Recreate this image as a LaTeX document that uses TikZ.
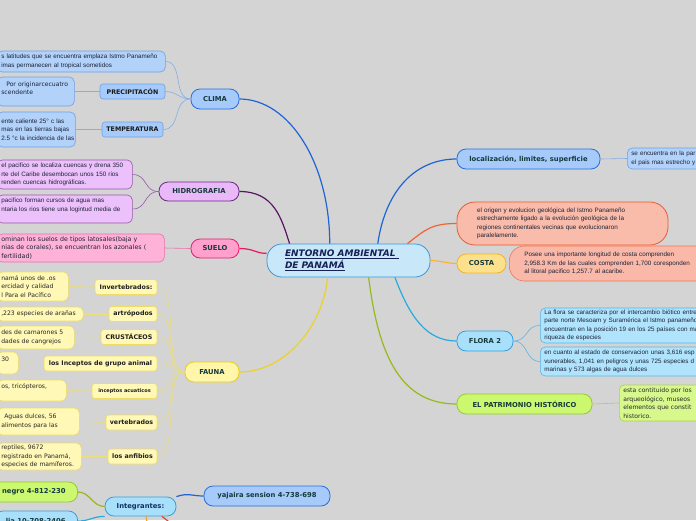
\documentclass[tikz,border=0pt]{standalone}
\usepackage{fontspec}
\setmainfont{Liberation Sans}
\newfontfamily\djv{DejaVu Sans}
\newcommand\ttlf{\djv\bfseries\fontsize{6.8}{8}\selectfont}
\newcommand\subf{\djv\bfseries\fontsize{6.3}{7}\selectfont}
\newcommand\notef{\fontsize{6.3}{8.5}\selectfont}
\newcommand\notedj{\djv\fontsize{6.1}{8.5}\selectfont}
\definecolor{bgc}{RGB}{212,212,212}
\definecolor{ttlc}{RGB}{22,58,58}
\definecolor{notec}{RGB}{28,34,56}
\definecolor{cenF}{RGB}{200,232,250}\definecolor{cenD}{RGB}{60,150,215}\definecolor{cenT}{RGB}{22,32,84}
\definecolor{bluF}{RGB}{166,202,250}\definecolor{bluD}{RGB}{40,110,220}\definecolor{bluL}{RGB}{30,100,215}
\definecolor{bluN}{RGB}{178,210,250}\definecolor{bluND}{RGB}{110,160,230}\definecolor{bluT}{RGB}{130,175,230}
\definecolor{purF}{RGB}{232,184,248}\definecolor{purD}{RGB}{110,40,130}\definecolor{purL}{RGB}{90,20,100}
\definecolor{purN}{RGB}{236,192,250}\definecolor{purND}{RGB}{150,90,170}
\definecolor{pnkF}{RGB}{255,160,205}\definecolor{pnkD}{RGB}{230,30,110}\definecolor{pnkL}{RGB}{230,25,90}
\definecolor{pnkN}{RGB}{255,178,216}\definecolor{pnkND}{RGB}{232,112,170}
\definecolor{yelF}{RGB}{255,246,170}\definecolor{yelD}{RGB}{235,205,20}\definecolor{yelL}{RGB}{235,210,40}
\definecolor{yelN}{RGB}{255,248,182}\definecolor{yelND}{RGB}{240,220,100}\definecolor{yelT}{RGB}{236,222,120}
\definecolor{salF}{RGB}{250,188,170}\definecolor{salD}{RGB}{235,90,45}\definecolor{salL}{RGB}{240,100,50}
\definecolor{cosF}{RGB}{253,224,140}\definecolor{cosD}{RGB}{240,180,40}\definecolor{cosL}{RGB}{250,180,50}
\definecolor{cosN}{RGB}{250,185,168}\definecolor{cosND}{RGB}{235,120,90}
\definecolor{cyaF}{RGB}{168,224,252}\definecolor{cyaD}{RGB}{50,160,220}\definecolor{cyaL}{RGB}{40,170,225}
\definecolor{cyaN}{RGB}{176,228,252}\definecolor{cyaND}{RGB}{90,180,230}
\definecolor{grnF}{RGB}{204,248,112}\definecolor{grnD}{RGB}{150,200,50}\definecolor{grnL}{RGB}{150,185,30}
\definecolor{grnN}{RGB}{215,248,140}\definecolor{grnND}{RGB}{170,210,80}
\definecolor{oraL}{RGB}{245,160,40}\definecolor{redL}{RGB}{225,70,50}
\usetikzlibrary{calc}
\tikzset{
 topic/.style={draw, rounded corners=9pt, line width=0.8pt, minimum height=20pt, inner sep=0pt, font=\ttlf, text=ttlc},
 subbox/.style={draw=yelND, fill=yelN, rounded corners=3pt, line width=0.6pt, minimum height=15pt, inner sep=0pt, font=\subf, text=black!88},
 note/.style={draw, rounded corners=5pt, line width=0.6pt, align=left, inner xsep=4pt, inner ysep=0pt, font=\notef, text=notec},
 conn/.style={line width=1.2pt},
 thinl/.style={line width=0.6pt},
}
\begin{document}
\begin{tikzpicture}[x=1pt,y=-1pt]
\fill[bgc] (0,0) rectangle (696,520);
\useasboundingbox (0,0) rectangle (696,520);

% central
\node[draw=cenD, fill=cenF, line width=0.8pt, rounded corners=15pt, minimum width=163pt, minimum height=33pt, text width=127pt, inner xsep=18pt, align=left, text=cenT, font=\djv\bfseries\itshape\fontsize{9}{12}\selectfont] (c) at (348.5,260.5) {\underline{ENTORNO AMBIENTAL }\\\underline{DE PANAMÁ}};

% CLIMA
\node[topic, fill=bluF, draw=bluD, minimum width=48pt] (clima) at (215,99) {CLIMA};
\node[note, fill=bluN, draw=bluND, anchor=west, text width=160pt, minimum height=21pt] (c1) at (-3,61.5) {\mbox{s latitudes que se encuentra emplaza Istmo Panameño}\\\mbox{imas permanecen al tropical sometidos}};
\node[subbox, fill=bluF, draw=bluND, text=black!90, minimum width=65pt] (prec) at (132.5,91.5) {PRECIPITACÓN};
\node[note, fill=bluN, draw=bluND, anchor=west, text width=69pt, minimum height=29pt, font=\notedj] (pc) at (-3,91.5) {\hspace*{5pt}\mbox{Por originarcecuatro}\\scendente\\[-2pt]\mbox{}};
\node[subbox, fill=bluF, draw=bluND, text=black!90, minimum width=61pt] (temp) at (132.5,129.5) {TEMPERATURA};
\node[note, fill=bluN, draw=bluND, anchor=west, text width=70pt, minimum height=35pt] (tc) at (-3,129.5) {\mbox{ente caliente 25° c las}\\\mbox{mas en las tierras bajas}\\\mbox{2.5 °c la incidencia de las}};
\draw[thinl, bluT] (clima.west) .. controls +(-18,0) and +(18,0) .. (c1.east);
\draw[thinl, bluT] (clima.west) .. controls +(-12,0) and +(12,0) .. (prec.east);
\draw[thinl, bluT] (clima.west) .. controls +(-18,0) and +(18,0) .. (temp.east);
\draw[thinl, bluT] (prec.west) -- (pc.east);
\draw[thinl, bluT] (temp.west) -- (tc.east);
\draw[conn, bluL] (clima.east) .. controls +(50,0) and +(0,-80) .. (c.138);

% HIDROGRAFIA
\node[topic, fill=purF, draw=purD, minimum width=80pt, minimum height=19pt] (hid) at (199,191.5) {HIDROGRAFIA};
\node[note, fill=purN, draw=purND, anchor=west, text width=127pt, minimum height=29pt] (h1) at (-3,174.5) {\mbox{el pacifico se localiza cuencas y drena 350}\\\mbox{rte del Caribe desembocan unos 150 rios}\\\mbox{renden cuencas hidrográficas.}};
\node[note, fill=purN, draw=purND, anchor=west, text width=127pt, minimum height=28pt] (h2) at (-3,209) {\mbox{pacifico forman cursos de agua mas}\\\mbox{ntaria los rios tiene una logintud media de}\\\mbox{}};
\draw[thinl, purND] (hid.west) .. controls +(-15,0) and +(15,0) .. (h1.east);
\draw[thinl, purND] (hid.west) .. controls +(-15,0) and +(15,0) .. (h2.east);
\draw[conn, purL] (hid.east) .. controls +(35,0) and +(-8,-25) .. (c.164);

% SUELO
\node[topic, fill=pnkF, draw=pnkD, minimum width=48pt, minimum height=19pt] (suelo) at (215,248.5) {SUELO};
\node[note, fill=pnkN, draw=pnkND, anchor=west, text width=159pt, minimum height=28pt, font=\djv\fontsize{6.3}{8.5}\selectfont] (s1) at (-3,248) {\mbox{ominan los suelos de tipos latosales(baja y}\\\mbox{nias de corales), se encuentran los azonales (}\\fertilidad)};
\draw[thinl, pnkND] (suelo.west) -- (s1.east);
\draw[conn, pnkL] (suelo.east) .. controls +(15,0) and +(-12,0) .. (c.175);

% FAUNA
\node[topic, fill=yelF, draw=yelD, minimum width=54pt] (fauna) at (212,372) {FAUNA};
\node[subbox, minimum width=62pt] (inv) at (126,287) {Invertebrados:};
\node[subbox, minimum width=48pt] (art) at (133,314) {artrópodos};
\node[subbox, minimum width=56pt] (cru) at (129,337) {CRUSTÁCEOS};
\node[subbox, minimum width=113pt] (inc) at (100.5,363.5) {los Inceptos de grupo animal};
\node[subbox, minimum width=65pt, font=\djv\bfseries\fontsize{5}{6}\selectfont] (acu) at (124.5,391) {inceptos acuaticos};
\node[subbox, minimum width=51pt] (ver) at (131.5,422.5) {vertebrados};
\node[subbox, minimum width=49pt] (anf) at (132.5,456.5) {los anfibios};
\tikzset{fnote/.style={note, fill=yelN, draw=yelND, anchor=west, font=\notedj, text=black!85}}
\node[fnote, text width=63pt, minimum height=29pt] (f1) at (-3,286.5) {\mbox{namá unos de .os}\\\mbox{ercidad y calidad}\\\mbox{l Para el Pacífico}};
\node[fnote, text width=78pt, minimum height=14pt] (f2) at (-3,314) {\mbox{,223 especies de arañas}};
\node[fnote, text width=69pt, minimum height=23pt] (f3) at (-3,337.5) {\mbox{des de camarones 5}\\\mbox{dades de cangrejos}};
\node[fnote, text width=13pt, minimum height=22pt] (f4) at (-3,363) {30\\\mbox{}};
\node[fnote, text width=61pt, minimum height=21pt] (f5) at (-3,390.5) {\mbox{os, tricópteros,}\\\mbox{}};
\node[fnote, text width=74pt, minimum height=27pt] (f6) at (-3,421.5) {\hspace*{3pt}\mbox{Aguas dulces, 56}\\\mbox{alimentos para las}};
\node[fnote, text width=76pt, minimum height=27pt] (f7) at (-3,456.5) {\mbox{reptiles, 9672}\\\mbox{registrado en Panamá,}\\\mbox{especies de mamíferos.}};
\foreach \s in {inv,art,cru,inc,acu,ver,anf}
  \draw[thinl, yelT] (fauna.west) .. controls +(-22,0) and +(22,0) .. (\s.east);
\foreach \s/\t in {inv/f1,art/f2,cru/f3,inc/f4,acu/f5,ver/f6,anf/f7}
  \draw[thinl, yelT] (\s.west) -- (\t.east);
\draw[conn, yelL] (fauna.east) .. controls +(45,0) and +(-5,50) .. (c.-141);

% Integrantes
\node[topic, fill=cyaF, draw=cyaD, minimum width=71pt, minimum height=19pt, text=ttlc!80!blue] (integ) at (140.5,506.5) {Integrantes:};
\node[topic, fill=grnF, draw=grnD, anchor=east, inner xsep=12pt] (negro) at (78,492) {negro 4-812-230};
\node[topic, fill=cyaF, draw=cyaD, anchor=east, inner xsep=12pt] (julia) at (78,521) {lia 10-708-2406};
\node[topic, fill=bluF, draw=bluD, minimum width=126pt] (yaj) at (267,496) {yajaira sension 4-738-698};
\coordinate (o1) at (148,530);
\coordinate (r1) at (176,530);
\draw[conn, grnL] (integ.west) .. controls +(-12,0) and +(12,0) .. (negro.east);
\draw[conn, bluL] (integ.north east) .. controls +(12,-4) and +(-12,0) .. (yaj.west);
\draw[conn, cyaL] (integ.south west) .. controls +(-12,0) and +(12,0) .. (julia.east);
\draw[conn, oraL] (integ.-60) -- (o1);
\draw[conn, redL] (integ.-25) .. controls +(6,4) .. (r1);

% localizacion
\node[topic, fill=bluF, draw=bluD, minimum width=143pt] (loc) at (528.5,159) {localización, limites, superficie};
\node[note, fill=bluN, draw=bluND, anchor=west, text width=120pt, minimum height=21pt] (lc) at (627,158.5) {se encuentra en la par\\el pais mas estrecho y};
\draw[thinl, bluT] (loc.east) -- (lc.west);
\draw[conn, bluL] (c.30) .. controls +(8,-55) and +(-40,0) .. (loc.west);

% origen
\node[note, fill=salF, draw=salD, line width=0.8pt, rounded corners=18pt, minimum width=211pt, minimum height=43pt, text width=171pt, inner xsep=20pt] (orig) at (562.5,223.5) {el origen y evolucion geológica del Istmo Panameño\\estrechamente ligado a la evolución geológica de la\\regiones continentales vecinas que evolucionaron\\paralelamente.};
\draw[conn, salL] (c.16) .. controls +(18,-14) and +(-25,0) .. (orig.west);

% COSTA
\node[topic, fill=cosF, draw=cosD, minimum width=49pt, minimum height=19pt] (costa) at (481.5,263.5) {COSTA};
\node[note, fill=cosN, draw=cosND, anchor=west, rounded corners=15pt, inner xsep=15pt, text width=220pt, minimum height=35pt] (cc) at (509,263.5) {Posee una importante longitud de costa comprenden\\2,958.3 Km de las cuales comprenden 1,700 coresponden\\al litoral pacifico 1,257.7 al acaribe.};
\draw[conn, cosL] (c.east) .. controls +(10,0) and +(-10,0) .. (costa.west);

% FLORA
\node[topic, fill=cyaF, draw=cyaD, minimum width=56pt] (flora) at (485,341) {FLORA 2};
\node[note, fill=cyaN, draw=cyaND, anchor=west, text width=220pt, minimum height=35pt] (fl1) at (540,325.5) {La flora se caracteriza por el intercambio biótico entre\\parte norte Mesoam y Suramérica el Istmo panameño\\encuentran en la posición 19 en los 25 países con ma\\riqueza de especies};
\node[note, fill=cyaN, draw=cyaND, anchor=west, text width=220pt, minimum height=29pt] (fl2) at (540,361.5) {en cuanto al estado de conservacion unas 3,616 esp\\vunerables, 1,041 en peligros y unas 725 especies d\\marinas y 573 algas de agua dulces};
\draw[thinl, cyaND] (flora.east) .. controls +(15,0) and +(-15,0) .. (fl1.west);
\draw[thinl, cyaND] (flora.east) .. controls +(15,0) and +(-15,0) .. (fl2.west);
\draw[conn, cyaL] (c.-20) .. controls +(15,40) and +(-30,0) .. (flora.west);

% PATRIMONIO
\node[topic, fill=grnF, draw=grnD, minimum width=135pt] (pat) at (524.5,404) {EL PATRIMONIO HISTÓRICO};
\node[note, fill=grnN, draw=grnND, anchor=west, text width=120pt, minimum height=36pt, font=\notedj, text=black!85] (pc2) at (619,403) {esta contituido por los\\arqueológico, museos\\elementos que constit\\historico.};
\draw[thinl, grnND] (pat.east) -- (pc2.west);
\draw[conn, grnL] (c.-40) .. controls +(10,80) and +(-55,0) .. (pat.west);
\end{tikzpicture}
\end{document}
